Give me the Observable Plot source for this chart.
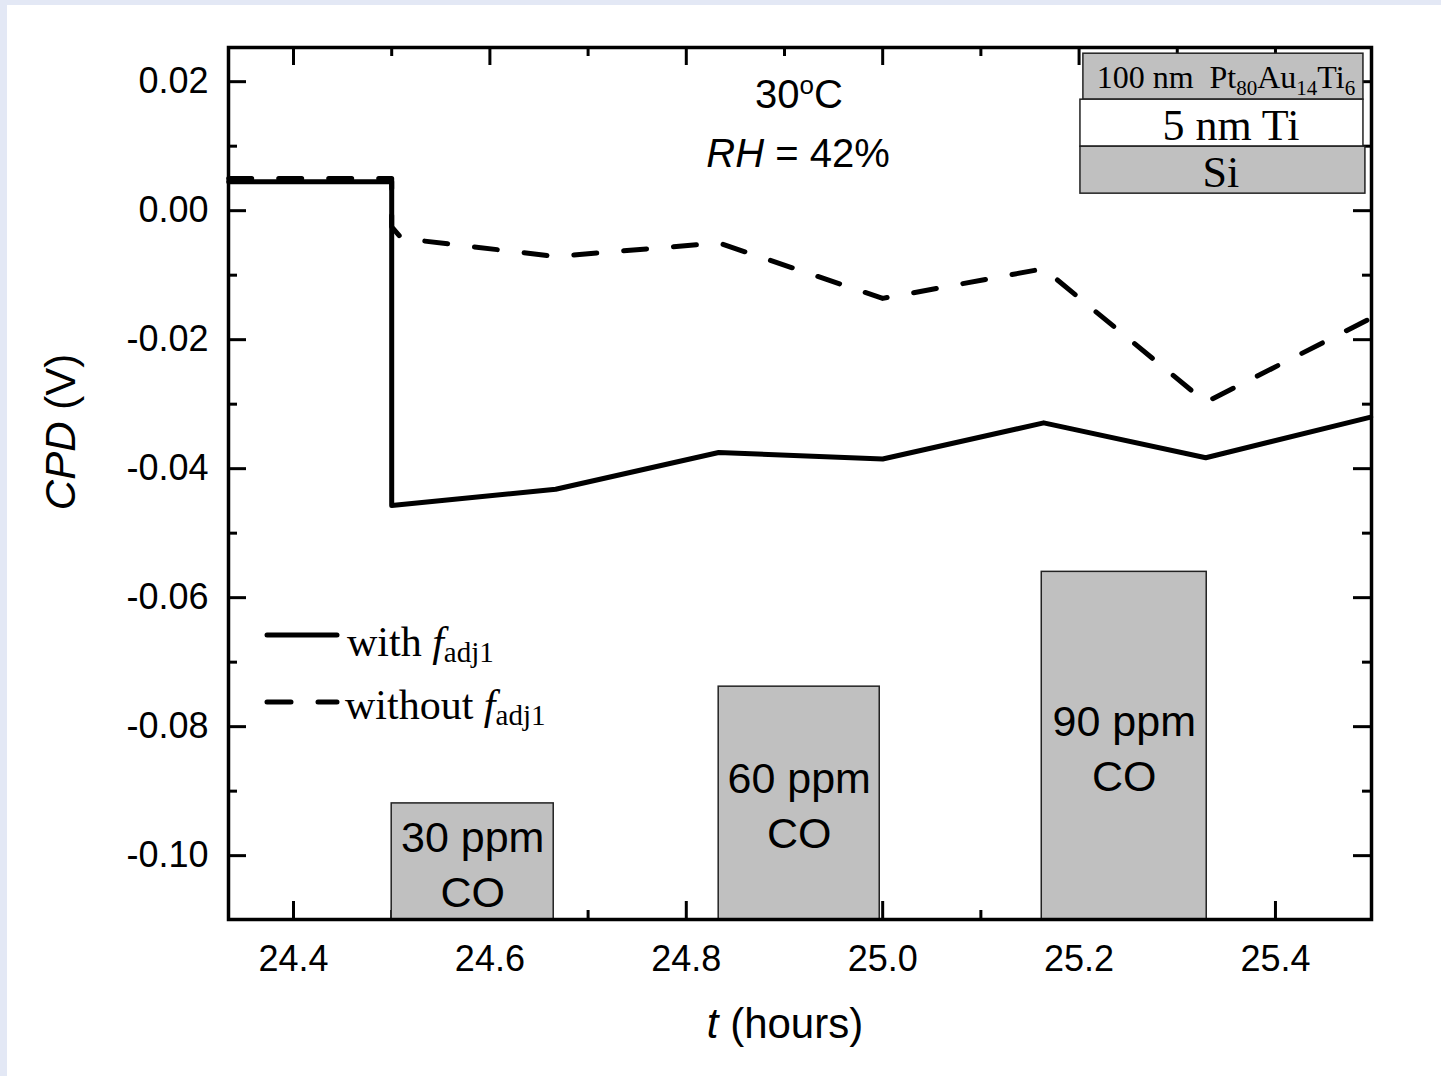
<!DOCTYPE html>
<html><head><meta charset="utf-8">
<script src="https://cdn.jsdelivr.net/npm/d3@7"></script>
<script src="https://cdn.jsdelivr.net/npm/@observablehq/plot@0.6"></script>
<style>
html,body{margin:0;padding:0;background:#e3e8f5;overflow:hidden;width:1441px;height:1076px;}
#panel{position:absolute;left:7px;top:5px;width:1434px;height:1071px;background:#fff;}
#chart{position:absolute;left:0;top:0;width:1441px;height:1076px;}
</style></head><body>
<div id="panel"></div><div id="chart"></div>
<script>
// ---- data ----
const tWith = [24.334, 24.5, 24.5, 24.667, 24.833, 25.0, 25.164, 25.329, 25.497];
const cpdWith = [0.0045, 0.0045, -0.0457, -0.0432, -0.0375, -0.0385, -0.0329, -0.0383, -0.0320];
const tWithout = [24.334, 24.5, 24.5, 24.51, 24.667, 24.833, 25.0, 25.164, 25.329, 25.497];
const cpdWithout = [0.0050, 0.0050, -0.0025, -0.0043, -0.0071, -0.0050, -0.0136, -0.0090, -0.0297, -0.0167];
const coLabels = ["30 ppm\nCO", "60 ppm\nCO", "90 ppm\nCO"];
const coStart = [24.5, 24.833, 25.162];
const coEnd = [24.665, 24.997, 25.330];
const coTop = [-0.0919, -0.0738, -0.0560];
const xTicks = [24.4, 24.6, 24.8, 25.0, 25.2, 25.4];
const xMinor = [24.5, 24.7, 24.9, 25.1, 25.3];
const yTicks = [0.02, 0.00, -0.02, -0.04, -0.06, -0.08, -0.10];
const yMinor = [0.01, -0.01, -0.03, -0.05, -0.07, -0.09];
const xDomain = [24.3338, 25.4978];
const yDomain = [-0.1099, 0.0253];

// ---- tables ----
const withData = tWith.map((t, i) => ({t, v: cpdWith[i]}));
const withoutData = tWithout.map((t, i) => ({t, v: cpdWithout[i]}));
const bars = coLabels.map((label, i) => ({label, x1: coStart[i], x2: coEnd[i], top: coTop[i]}));
// inset layer stack (annotation, in data units)
const layers = [
  {x1: 25.2044, x2: 25.4896, y1: 0.01721, y2: 0.02434, fill: "#c0c0c0"},
  {x1: 25.2014, x2: 25.4896, y1: 0.00992, y2: 0.01721, fill: "#ffffff"},
  {x1: 25.2014, x2: 25.4916, y1: 0.00264, y2: 0.00992, fill: "#c0c0c0"}
];

const W = 1143, H = 872, major = 18, minor = 9;
const yMin = yDomain[0];
const tk = {stroke: "black", strokeWidth: 3};

const plot = Plot.plot({
  width: 1441, height: 1076,
  marginLeft: 228, marginRight: 70, marginTop: 47, marginBottom: 157,
  x: {domain: xDomain},
  y: {domain: yDomain},
  style: {background: "transparent", fontFamily: "'Liberation Sans', Arial, sans-serif", color: "black", overflow: "visible"},
  marks: [
    Plot.ruleX(xTicks, {...tk, insetTop: H - major}),
    Plot.ruleX(xTicks, {...tk, insetBottom: H - major}),
    Plot.ruleX(xMinor, {...tk, insetTop: H - minor}),
    Plot.ruleX(xMinor, {...tk, insetBottom: H - minor}),
    Plot.ruleY(yTicks, {...tk, insetRight: W - major}),
    Plot.ruleY(yTicks, {...tk, insetLeft: W - major}),
    Plot.ruleY(yMinor, {...tk, insetRight: W - minor}),
    Plot.ruleY(yMinor, {...tk, insetLeft: W - minor}),
    Plot.rect(bars, {x1: "x1", x2: "x2", y1: () => yMin, y2: "top", fill: "#c0c0c0", stroke: "#222", strokeWidth: 1.5}),
    Plot.text(bars, {x: d => (d.x1 + d.x2) / 2, y: d => (d.top + yMin) / 2, text: "label", fontSize: 43, lineHeight: 1.28, fill: "black"}),
    Plot.line(withoutData, {x: "t", y: "v", stroke: "black", strokeWidth: 5, strokeDasharray: "23,27", strokeLinecap: "round", strokeLinejoin: "round"}),
    Plot.line(withData, {x: "t", y: "v", stroke: "black", strokeWidth: 5, strokeLinejoin: "round"}),
    Plot.rect(layers, {x1: "x1", x2: "x2", y1: "y1", y2: "y2", fill: "fill", stroke: "#222", strokeWidth: 1.5}),
    Plot.frame({stroke: "black", strokeWidth: 3.5}),
    Plot.axisX(xTicks, {anchor: "bottom", tickSize: 0, tickPadding: 26, fontSize: 36, tickFormat: d => d.toFixed(1), label: null}),
    Plot.axisY(yTicks, {anchor: "left", tickSize: 0, tickPadding: 20, fontSize: 36, tickFormat: d => d.toFixed(2), label: null})
  ]
});
document.getElementById("chart").appendChild(plot);

// ---- rich text annotations ----
const svg = d3.select(plot);
const sx = plot.scale("x"), sy = plot.scale("y");
const sans = "'Liberation Sans', Arial, sans-serif";
const serif = "'Liberation Serif', 'Times New Roman', serif";

function rich(x, y, family, size, parts, anchor = "middle", rotate = null) {
  const t = svg.append("text").attr("x", x).attr("y", y)
    .attr("font-family", family).attr("font-size", size)
    .attr("text-anchor", anchor).attr("fill", "black");
  if (rotate != null) t.attr("transform", `rotate(${rotate},${x},${y})`);
  for (const p of parts) {
    const s = t.append("tspan").text(p.t);
    if (p.i) s.attr("font-style", "italic");
    if (p.s) s.attr("font-size", p.s);
    if (p.dy) s.attr("dy", p.dy);
  }
  return t;
}

// condition labels
rich(799, 108, sans, 40, [{t: "30"}, {t: "o", s: 26, dy: -14}, {t: "C", dy: 14}]);
rich(798, 167, sans, 40, [{t: "RH", i: true}, {t: " = 42%"}]);

// axis titles
rich(785, 1038, sans, 42, [{t: "t", i: true}, {t: " (hours)"}]);
rich(75, 432, sans, 42, [{t: "CPD", i: true}, {t: " (V)"}], "middle", -90);

// inset layer labels
const cx = sx.apply((layers[0].x1 + layers[0].x2) / 2);
rich(cx + 3, 88, serif, 32, [
  {t: "100 nm\u00a0\u00a0Pt"}, {t: "80", s: 21, dy: 7}, {t: "Au", dy: -7},
  {t: "14", s: 21, dy: 7}, {t: "Ti", dy: -7}, {t: "6", s: 21, dy: 7}
]);
rich(cx + 8, 140, serif, 44, [{t: "5 nm Ti"}]);
rich(cx - 2, 187, serif, 44, [{t: "Si"}]);

// legend
svg.append("line").attr("x1", 267).attr("x2", 337).attr("y1", 635).attr("y2", 635)
  .attr("stroke", "black").attr("stroke-width", 5).attr("stroke-linecap", "round");
svg.append("line").attr("x1", 267).attr("x2", 337).attr("y1", 702).attr("y2", 702)
  .attr("stroke", "black").attr("stroke-width", 5).attr("stroke-linecap", "round")
  .attr("stroke-dasharray", "24,27");
rich(347, 656, serif, 42, [{t: "with "}, {t: "f", i: true}, {t: "adj1", s: 29, dy: 6}], "start");
rich(345, 719, serif, 42, [{t: "without "}, {t: "f", i: true}, {t: "adj1", s: 29, dy: 6}], "start");
</script>
</body></html>
